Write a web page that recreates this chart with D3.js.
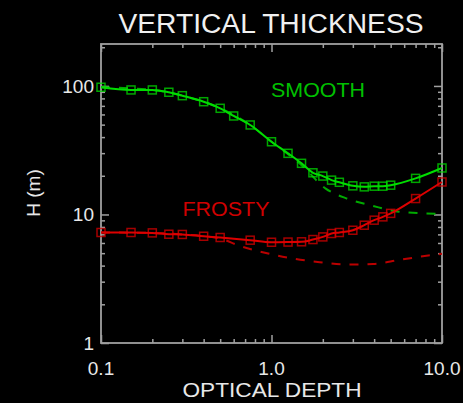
<!DOCTYPE html>
<html>
<head>
<meta charset="utf-8">
<script src="https://cdn.jsdelivr.net/npm/d3@7"></script>
<style>
  html, body { margin: 0; padding: 0; background: #000; }
  svg { display: block; }
  text { font-family: "Liberation Sans", Arial, sans-serif; }
</style>
</head>
<body>
<div id="chart"></div>
<script>
// optical depth grid and vertical thickness H (m)
var smoothTau = [0.1, 0.15, 0.2, 0.25, 0.3, 0.4, 0.5, 0.6, 0.75, 1.0, 1.25, 1.5, 1.75, 2.0, 2.25, 2.5, 3.0, 3.5, 4.0, 4.5, 5.0, 7.0, 10.0];
var smoothH   = [97.7, 93.1, 93.1, 89.3, 84.0, 75.4, 67.0, 58.4, 49.7, 36.8, 29.9, 25.0, 21.1, 19.9, 18.5, 17.8, 16.7, 16.4, 16.6, 16.6, 16.9, 19.1, 23.0];

var frostyTau = [0.1, 0.15, 0.2, 0.25, 0.3, 0.4, 0.5, 0.75, 1.0, 1.25, 1.5, 1.75, 2.0, 2.25, 2.5, 3.0, 3.5, 4.0, 4.5, 5.0, 7.0, 10.0];
var frostyH   = [7.24, 7.24, 7.19, 7.02, 6.99, 6.77, 6.62, 6.31, 6.08, 6.1, 6.13, 6.38, 6.69, 7.11, 7.24, 7.54, 8.25, 9.03, 9.58, 10.2, 13.3, 17.9];

// dashed companion curves
var smoothDashTau = [0.1, 0.2, 0.3, 0.5, 0.75, 1.0, 1.5, 2.08, 2.72, 3.9, 5.6, 10.0];
var smoothDashH   = [97.7, 93.1, 84.0, 67.0, 49.7, 36.8, 24.2, 15.9, 13.4, 11.7, 10.5, 10.1];
var frostyDashTau = [0.1, 0.2, 0.3, 0.5, 0.636, 0.914, 1.34, 1.92, 2.77, 3.95, 5.64, 8.3, 10.0];
var frostyDashH   = [7.24, 7.19, 6.99, 6.5, 5.76, 5.04, 4.54, 4.25, 4.08, 4.12, 4.44, 4.79, 4.95];

var xTickVals = [0.1, 1.0, 10.0];
var xTickLabels = ["0.1", "1.0", "10.0"];
var yTickVals = [1, 10, 100];
var yTickLabels = ["1", "10", "100"];

var svgWidth = 463, svgHeight = 403;
var margin = {top: 44, right: 21, bottom: 60, left: 101};
var width = svgWidth - margin.left - margin.right;
var height = svgHeight - margin.top - margin.bottom;

var svg = d3.select("#chart").append("svg")
    .attr("width", svgWidth)
    .attr("height", svgHeight)
    .style("background", "#000");

var chartGroup = svg.append("g")
    .attr("transform", `translate(${margin.left}, ${margin.top})`);

var x = d3.scaleLog().domain([0.1, 10]).range([0, width]);
var y = d3.scaleLog().domain([1, 212]).range([height, 0]);

var axisColor = "#a0a0a0";

// minor tick values
var xMinor = [];
[0.1, 1].forEach(function(d) { for (var k = 2; k <= 9; k++) xMinor.push(d * k); });
var yMinor = [];
[1, 10, 100].forEach(function(d) { for (var k = 2; k <= 9; k++) if (d * k <= 212) yMinor.push(d * k); });

function styleAxis(g) {
    g.select(".domain").remove();
    g.selectAll("line").attr("stroke", axisColor).attr("stroke-width", 1.5);
    g.selectAll("text").remove();
}

// axes, ticks pointing inward
chartGroup.append("g").attr("transform", `translate(0, ${height})`)
    .call(d3.axisTop(x).tickValues(xTickVals).tickSize(8)).call(styleAxis);
chartGroup.append("g").attr("transform", `translate(0, ${height})`)
    .call(d3.axisTop(x).tickValues(xMinor).tickSize(4)).call(styleAxis);
chartGroup.append("g")
    .call(d3.axisBottom(x).tickValues(xTickVals).tickSize(8)).call(styleAxis);
chartGroup.append("g")
    .call(d3.axisBottom(x).tickValues(xMinor).tickSize(4)).call(styleAxis);
chartGroup.append("g")
    .call(d3.axisRight(y).tickValues(yTickVals).tickSize(8)).call(styleAxis);
chartGroup.append("g")
    .call(d3.axisRight(y).tickValues(yMinor).tickSize(4)).call(styleAxis);
chartGroup.append("g").attr("transform", `translate(${width}, 0)`)
    .call(d3.axisLeft(y).tickValues(yTickVals).tickSize(8)).call(styleAxis);
chartGroup.append("g").attr("transform", `translate(${width}, 0)`)
    .call(d3.axisLeft(y).tickValues(yMinor).tickSize(4)).call(styleAxis);

chartGroup.append("rect")
    .attr("x", 0).attr("y", 0)
    .attr("width", width).attr("height", height)
    .attr("fill", "none")
    .attr("stroke", axisColor)
    .attr("stroke-width", 1.8);

// tick labels
chartGroup.selectAll(".xlab")
    .data(xTickVals)
    .enter()
    .append("text")
    .attr("x", d => x(d))
    .attr("y", height + 32)
    .attr("text-anchor", "middle")
    .attr("fill", "#e8e8e8")
    .attr("font-size", 19)
    .text((d, i) => xTickLabels[i]);

chartGroup.selectAll(".ylab")
    .data(yTickVals)
    .enter()
    .append("text")
    .attr("x", -7)
    .attr("y", d => y(d) + 7)
    .attr("text-anchor", "end")
    .attr("fill", "#e8e8e8")
    .attr("font-size", 19)
    .text((d, i) => yTickLabels[i]);

// titles
svg.append("text")
    .attr("x", 271)
    .attr("y", 33)
    .attr("text-anchor", "middle")
    .attr("fill", "#f0f0f0")
    .attr("font-size", 27)
    .attr("textLength", 305)
    .attr("lengthAdjust", "spacingAndGlyphs")
    .text("VERTICAL THICKNESS");

svg.append("text")
    .attr("x", 272)
    .attr("y", 397)
    .attr("text-anchor", "middle")
    .attr("fill", "#e8e8e8")
    .attr("font-size", 20)
    .attr("textLength", 179)
    .attr("lengthAdjust", "spacingAndGlyphs")
    .text("OPTICAL DEPTH");

svg.append("text")
    .attr("transform", "translate(40, 193) rotate(-90)")
    .attr("text-anchor", "middle")
    .attr("fill", "#e8e8e8")
    .attr("font-size", 19)
    .text("H (m)");

// curves
var line = d3.line()
    .x(d => x(d[0]))
    .y(d => y(d[1]))
    .curve(d3.curveMonotoneX);

var green = "#00dd00", red = "#dd0000";

function drawSeries(tau, h, color, dashed, markers) {
    var pts = tau.map((t, i) => [t, h[i]]);
    chartGroup.append("path")
        .datum(pts)
        .attr("fill", "none")
        .attr("stroke", color)
        .attr("stroke-width", 2)
        .attr("stroke-dasharray", dashed ? "9,9" : null)
        .attr("d", line);
    if (markers) {
        chartGroup.selectAll(null)
            .data(pts)
            .enter()
            .append("rect")
            .attr("x", d => x(d[0]) - 4)
            .attr("y", d => y(d[1]) - 4)
            .attr("width", 8)
            .attr("height", 8)
            .attr("fill", "none")
            .attr("stroke", color)
            .attr("stroke-opacity", 0.75)
            .attr("stroke-width", 1.5);
    }
}

drawSeries(smoothDashTau, smoothDashH, "#00aa00", true, false);
drawSeries(frostyDashTau, frostyDashH, "#bb0000", true, false);
drawSeries(smoothTau, smoothH, green, false, true);
drawSeries(frostyTau, frostyH, red, false, true);

// labels
svg.append("text")
    .attr("x", 318)
    .attr("y", 97)
    .attr("text-anchor", "middle")
    .attr("fill", "#00c000")
    .attr("font-size", 20)
    .attr("textLength", 94)
    .attr("lengthAdjust", "spacingAndGlyphs")
    .text("SMOOTH");

svg.append("text")
    .attr("x", 226)
    .attr("y", 216)
    .attr("text-anchor", "middle")
    .attr("fill", "#d00000")
    .attr("font-size", 20)
    .attr("textLength", 87)
    .attr("lengthAdjust", "spacingAndGlyphs")
    .text("FROSTY");
</script>
</body>
</html>
